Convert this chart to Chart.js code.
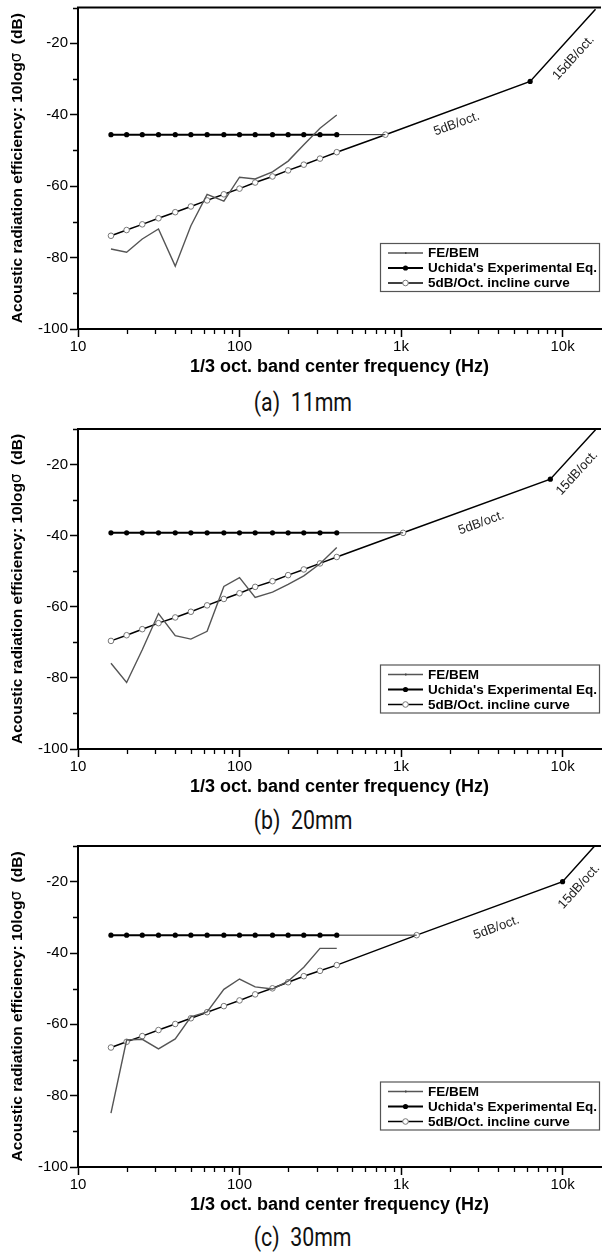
<!DOCTYPE html>
<html>
<head>
<meta charset="utf-8">
<script src="https://cdn.jsdelivr.net/npm/chart.js@4.4.1/dist/chart.umd.min.js"></script>
<style>
  html, body { margin: 0; padding: 0; background: #fff; }
  body { width: 606px; height: 1257px; position: relative; overflow: hidden; }
  .panel { position: absolute; left: 0; width: 606px; }
  .caption {
    position: absolute; left: 0; width: 606px; height: 30px; line-height: 30px;
    text-align: center; font-family: 'Roboto'; font-weight: 400; font-size: 26px; color: #111;
  }
  .caption span { display: inline-block; transform: scaleX(0.82); }
</style>
</head>
<body>
<div class="panel" style="top:0px"><canvas id="chartA" width="606" height="380"></canvas></div>
<div class="caption" style="top:387px"><span>(a)&nbsp; 11mm</span></div>
<div class="panel" style="top:420px"><canvas id="chartB" width="606" height="380"></canvas></div>
<div class="caption" style="top:805px"><span>(b)&nbsp; 20mm</span></div>
<div class="panel" style="top:840px"><canvas id="chartC" width="606" height="378"></canvas></div>
<div class="caption" style="top:1222px"><span>(c)&nbsp; 30mm</span></div>

<script>
// 1/3 octave band centre frequencies (Hz)
const freqs = [16, 20, 25, 31.5, 40, 50, 63, 80, 100, 125, 160, 200, 250, 315, 400];

// axis ticks
const xTicks = [10, 100, 1000, 10000];
const xTickLabels = ['10', '100', '1k', '10k'];
const xMinorTicks = [20, 30, 40, 50, 60, 70, 80, 90, 200, 300, 400, 500, 600, 700, 800, 900,
                     2000, 3000, 4000, 5000, 6000, 7000, 8000, 9000];
const yTicks = [-100, -80, -60, -40, -20];
const yMinorTicks = [-90, -70, -50, -30, -10];

const seriesNames = ['FE/BEM', "Uchida's Experimental Eq.", '5dB/Oct. incline curve'];
const noteTexts = ['5dB/oct.', '15dB/oct.'];

// (a) 11mm
const feA = [-77.6, -78.5, -74.8, -72.0, -82.4, -71.1, -62.3, -64.2, -57.5, -58.0, -56.0, -53.0, -48.4, -43.8, -40.1];
const uchidaA = [-45.6, -45.6, -45.6, -45.6, -45.6, -45.6, -45.6, -45.6, -45.6, -45.6, -45.6, -45.6, -45.6, -45.6, -45.6];
const inclineA = [-73.9, -72.3, -70.7, -69.0, -67.3, -65.7, -64.0, -62.3, -60.7, -59.0, -57.3, -55.6, -54.0, -52.3, -50.5];
const bendFreqA = [800, 6300, 16000];
const bendLevelA = [-45.6, -30.7, -10.5];
const noteFreqA = [2210, 11700];
const noteLevelA = [-42.6, -24.1];

// (b) 20mm
const feB = [-75.9, -81.3, -72.1, -61.9, -68.1, -69.1, -66.9, -54.3, -51.8, -57.4, -55.9, -53.7, -51.3, -47.9, -43.3];
const uchidaB = [-39.2, -39.2, -39.2, -39.2, -39.2, -39.2, -39.2, -39.2, -39.2, -39.2, -39.2, -39.2, -39.2, -39.2, -39.2];
const inclineB = [-69.6, -68.0, -66.3, -64.6, -63.0, -61.4, -59.6, -57.8, -56.2, -54.4, -52.8, -51.1, -49.5, -47.8, -46.0];
const bendFreqB = [1030, 8400, 16000];
const bendLevelB = [-39.2, -24.1, -10.2];
const noteFreqB = [3140, 12300];
const noteLevelB = [-36.4, -22.4];

// (c) 30mm
const feC = [-84.9, -64.4, -64.2, -66.9, -64.1, -57.9, -56.5, -50.2, -47.3, -49.5, -50.1, -47.9, -44.0, -38.7, -38.7];
const uchidaC = [-35.0, -35.0, -35.0, -35.0, -35.0, -35.0, -35.0, -35.0, -35.0, -35.0, -35.0, -35.0, -35.0, -35.0, -35.0];
const inclineC = [-66.5, -64.9, -63.3, -61.6, -59.9, -58.3, -56.6, -54.9, -53.3, -51.6, -49.9, -48.2, -46.5, -45.0, -43.4];
const bendFreqC = [1250, 10000, 15800];
const bendLevelC = [-35.0, -20.0, -10.0];
const noteFreqC = [3900, 12650];
const noteLevelC = [-32.9, -21.4];

Chart.defaults.font.family = "'Liberation Sans', Arial, sans-serif";
Chart.defaults.color = '#000';

// frame, minor ticks, slope notes, legend box and y title
const decorPlugin = {
  id: 'decor',
  afterDraw(chart, args, opts) {
    const ctx = chart.ctx;
    const area = chart.chartArea;
    const xs = chart.scales.x;
    const ys = chart.scales.y;
    ctx.save();

    // top frame line
    ctx.strokeStyle = '#000';
    ctx.lineWidth = 2;
    ctx.beginPath();
    ctx.moveTo(area.left - 1, area.top);
    ctx.lineTo(area.right, area.top);
    ctx.stroke();

    // minor ticks
    ctx.lineWidth = 1.3;
    ctx.beginPath();
    xMinorTicks.forEach(v => {
      const px = Math.round(xs.getPixelForValue(v)) + 0.5;
      ctx.moveTo(px, area.bottom);
      ctx.lineTo(px, area.bottom + 5);
    });
    yMinorTicks.forEach(v => {
      const py = Math.round(ys.getPixelForValue(v)) + 0.5;
      ctx.moveTo(area.left, py);
      ctx.lineTo(area.left - 5, py);
    });
    ctx.stroke();

    // slope notes, rotated along the bent line
    const bend = chart.data.datasets[3].data;
    ctx.fillStyle = '#222';
    ctx.font = "13px 'Liberation Sans'";
    ctx.textAlign = 'center';
    ctx.textBaseline = 'middle';
    opts.noteFreq.forEach((f, i) => {
      const p0 = bend[i + 0], p1 = bend[i + 1];
      const ang = Math.atan2(ys.getPixelForValue(p1.y) - ys.getPixelForValue(p0.y),
                             xs.getPixelForValue(p1.x) - xs.getPixelForValue(p0.x));
      ctx.save();
      ctx.translate(xs.getPixelForValue(f), ys.getPixelForValue(opts.noteLevel[i]));
      ctx.rotate(ang);
      ctx.fillText(noteTexts[i], 0, 0);
      ctx.restore();
    });

    // legend box
    const bx = 380, bw = 219, by = area.top + 235.5, bh = 48;
    ctx.fillStyle = '#fff';
    ctx.fillRect(bx, by, bw, bh);
    ctx.strokeStyle = '#555';
    ctx.lineWidth = 1.2;
    ctx.strokeRect(bx + 0.5, by + 0.5, bw, bh);
    ctx.font = "bold 13.5px 'Liberation Sans'";
    ctx.textAlign = 'left';
    ctx.textBaseline = 'middle';
    seriesNames.forEach((name, i) => {
      const ds = chart.data.datasets[i];
      const ry = by + 10 + i * 15;
      ctx.strokeStyle = ds.borderColor;
      ctx.lineWidth = i === 1 ? 2 : 1.5;
      ctx.beginPath();
      ctx.moveTo(bx + 8, ry);
      ctx.lineTo(bx + 43, ry);
      ctx.stroke();
      if (i === 1) {
        ctx.fillStyle = '#000';
        ctx.beginPath(); ctx.arc(bx + 25.5, ry, 2.6, 0, Math.PI * 2); ctx.fill();
      } else if (i === 2) {
        ctx.fillStyle = '#fff';
        ctx.strokeStyle = '#777';
        ctx.lineWidth = 1;
        ctx.beginPath(); ctx.arc(bx + 25.5, ry, 2.8, 0, Math.PI * 2); ctx.fill(); ctx.stroke();
      } else {
        ctx.fillStyle = '#444';
        ctx.fillRect(bx + 25, ry - 1, 1.5, 2);
      }
      ctx.fillStyle = '#000';
      ctx.fillText(name, bx + 48, ry + 0.5);
    });

    // y axis title with a plain sigma
    const parts = [
      ['bold 15.5px \'Liberation Sans\'', 'Acoustic radiation efficiency: 10log'],
      ['15px \'DejaVu Sans\'', 'σ'],
      ['bold 15.5px \'Liberation Sans\'', '  (dB)']
    ];
    let total = 0;
    parts.forEach(p => { ctx.font = p[0]; total += ctx.measureText(p[1]).width; });
    ctx.translate(17.5, (area.top + area.bottom) / 2);
    ctx.rotate(-Math.PI / 2);
    ctx.fillStyle = '#000';
    ctx.textBaseline = 'middle';
    let cx = -total / 2;
    parts.forEach(p => {
      ctx.font = p[0];
      ctx.fillText(p[1], cx, 0);
      cx += ctx.measureText(p[1]).width;
    });
    ctx.restore();
  }
};

function makeChart(id, fe, uchida, incline, bendFreq, bendLevel, noteFreq, noteLevel, padTop, xAxisHeight) {
  const n = freqs.length;
  const fePts = freqs.map((f, i) => ({ x: f, y: fe[i] }));
  const uchidaPts = freqs.map((f, i) => ({ x: f, y: uchida[i] }))
    .concat([{ x: bendFreq[0], y: bendLevel[0] }]);
  const inclinePts = freqs.map((f, i) => ({ x: f, y: incline[i] }))
    .concat([{ x: bendFreq[0], y: bendLevel[0] }]);
  const bendPts = bendFreq.map((f, i) => ({ x: f, y: bendLevel[i] }));

  return new Chart(document.getElementById(id), {
    type: 'line',
    data: {
      datasets: [
        {
          label: seriesNames[0],
          data: fePts,
          borderColor: '#555',
          borderWidth: 1.4,
          pointRadius: 0,
          tension: 0
        },
        {
          label: seriesNames[1],
          data: uchidaPts,
          borderColor: '#000',
          borderWidth: 2,
          pointRadius: ctx => ctx.dataIndex < n ? 2.6 : 0,
          pointBackgroundColor: '#000',
          pointBorderWidth: 0,
          segment: {
            borderWidth: ctx => ctx.p0DataIndex >= n - 1 ? 1 : 2,
            borderColor: ctx => ctx.p0DataIndex >= n - 1 ? '#222' : '#000'
          }
        },
        {
          label: seriesNames[2],
          data: inclinePts,
          borderColor: '#000',
          borderWidth: 1.5,
          pointRadius: 2.8,
          pointBackgroundColor: '#fff',
          pointBorderColor: '#777',
          pointBorderWidth: 1
        },
        {
          label: 'bend',
          data: bendPts,
          borderColor: '#000',
          borderWidth: 1.5,
          pointRadius: [0, 2.6, 0],
          pointBackgroundColor: '#000',
          pointBorderWidth: 0
        }
      ]
    },
    options: {
      responsive: false,
      animation: false,
      events: [],
      layout: { padding: { top: padTop, left: 0, right: 0, bottom: 0 } },
      plugins: {
        legend: { display: false },
        tooltip: { enabled: false },
        decor: { noteFreq: noteFreq, noteLevel: noteLevel }
      },
      scales: {
        x: {
          type: 'logarithmic',
          min: 10,
          max: 17300,
          afterBuildTicks: s => { s.ticks = xTicks.map(v => ({ value: v })); },
          afterFit: s => { s.height = xAxisHeight; s.paddingLeft = 0; s.paddingRight = 0; },
          ticks: {
            callback: (v, i) => xTickLabels[i],
            font: { size: 15 },
            color: '#000',
            padding: 1,
            maxRotation: 0,
            autoSkip: false
          },
          grid: { display: true, drawOnChartArea: false, drawTicks: true, tickLength: 8, tickWidth: 1.5, tickColor: '#000' },
          border: { display: true, color: '#000', width: 2 },
          title: {
            display: true,
            text: '1/3 oct. band center frequency (Hz)',
            font: { size: 18, weight: 'bold' },
            color: '#000',
            padding: { top: 0, bottom: 2 }
          }
        },
        y: {
          type: 'linear',
          min: -100,
          max: -10,
          afterBuildTicks: s => { s.ticks = yTicks.map(v => ({ value: v })); },
          afterFit: s => { s.width = 78; s.paddingTop = 0; s.paddingBottom = 0; },
          ticks: {
            callback: v => String(v),
            font: { size: 15 },
            color: '#000',
            padding: 2
          },
          grid: { display: true, drawOnChartArea: false, drawTicks: true, tickLength: 8, tickWidth: 1.5, tickColor: '#000' },
          border: { display: true, color: '#000', width: 2 }
        }
      }
    },
    plugins: [decorPlugin]
  });
}

makeChart('chartA', feA, uchidaA, inclineA, bendFreqA, bendLevelA, noteFreqA, noteLevelA, 7.5, 51);
makeChart('chartB', feB, uchidaB, inclineB, bendFreqB, bendLevelB, noteFreqB, noteLevelB, 9, 51);
makeChart('chartC', feC, uchidaC, inclineC, bendFreqC, bendLevelC, noteFreqC, noteLevelC, 6, 51);
</script>
</body>
</html>
